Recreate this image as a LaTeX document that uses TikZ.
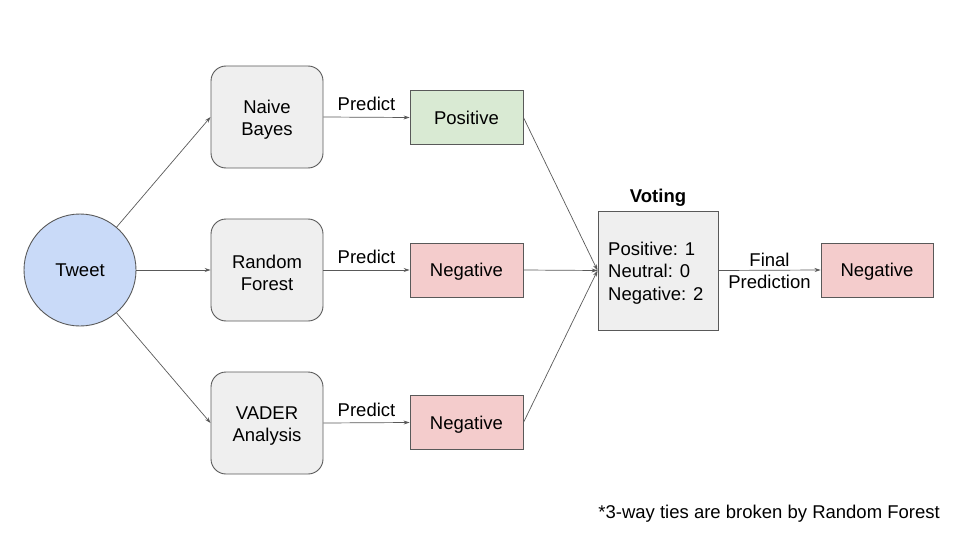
\documentclass[tikz,border=0pt]{standalone}
\usepackage{fontspec}
\setmainfont{Liberation Sans}
\usetikzlibrary{arrows.meta}
\definecolor{edge}{HTML}{595959}
\definecolor{bluefill}{HTML}{C9DAF8}
\definecolor{grayfill}{HTML}{EFEFEF}
\definecolor{greenfill}{HTML}{D9EAD3}
\definecolor{redfill}{HTML}{F4CCCC}
\tikzset{
  txt/.style={font=\fontsize{18.5}{22.3}\selectfont},
  basebox/.style={draw=edge, line width=0.9pt, inner sep=0pt, align=center, txt},
  modelbox/.style={basebox, fill=grayfill, rounded corners=15pt, minimum width=112pt, minimum height=102pt},
  resultbox/.style={basebox, minimum width=113pt, minimum height=54pt},
  posbox/.style={resultbox, fill=greenfill},
  negbox/.style={resultbox, fill=redfill},
  conn/.style={draw=edge, line width=0.7pt, -{Stealth[length=6pt,width=4pt]}},
  lbl/.style={txt, inner sep=0pt, align=center}
}
\begin{document}
\begin{tikzpicture}[x=1pt,y=-1pt]
\useasboundingbox (0,0) rectangle (960,540);
\node[basebox, circle, fill=bluefill, minimum size=112pt] (tweet) at (80,270) {Tweet};
\node[modelbox] (nb) at (267,117) {};
\node[lbl] (nbt) at ([yshift=-3pt]nb.center) {Naive\\Bayes};
\node[modelbox] (rf) at (267,270) {};
\node[lbl] (rft) at ([yshift=-3pt]rf.center) {Random\\Forest};
\node[modelbox] (va) at (267,423) {};
\node[lbl] (vat) at ([yshift=-3pt]va.center) {VADER\\Analysis};
\node[posbox] (p1) at (466.5,117.5) {Positive};
\node[negbox] (n1) at (466.5,270) {};
\node[lbl] (n1t) at ([yshift=-2pt]n1.center) {Negative};
\node[negbox] (n2) at (466.5,422.5) {};
\node[lbl] (n2t) at ([yshift=-2pt]n2.center) {Negative};
\node[basebox, fill=grayfill, minimum width=120pt, minimum height=119pt] (vote) at (658,270.5) {};
\node[lbl, align=left, anchor=west] (counts) at (608,273) {Positive: 1\\Neutral: 0\\Negative: 2};
\node[lbl, font=\fontsize{18.5}{22}\selectfont\bfseries] (vt) at (658,197.5) {Voting};
\node[negbox, minimum width=112pt] (fin) at (877,270) {};
\node[lbl] (fint) at ([yshift=-2pt]fin.center) {Negative};
\node[lbl, anchor=east] (note) at (940,513.5) {*3-way ties are broken by Random Forest};

\draw[conn] (tweet) -- (nb.west);
\draw[conn] (tweet) -- (rf.west);
\draw[conn] (tweet) -- (va.west);
\draw[conn] (nb.east) -- node[lbl, above=6pt] {Predict} (p1.west);
\draw[conn] (rf.east) -- node[lbl, above=6pt] {Predict} (n1.west);
\draw[conn] (va.east) -- node[lbl, above=6pt] {Predict} (n2.west);
\draw[conn] (p1.east) -- (vote.west);
\draw[conn] (n1.east) -- (vote.west);
\draw[conn] (n2.east) -- (vote.west);
\draw[conn] (vote.east) -- node[lbl, yshift=-0.5pt] {Final\\Prediction} (fin.west);
\end{tikzpicture}
\end{document}
